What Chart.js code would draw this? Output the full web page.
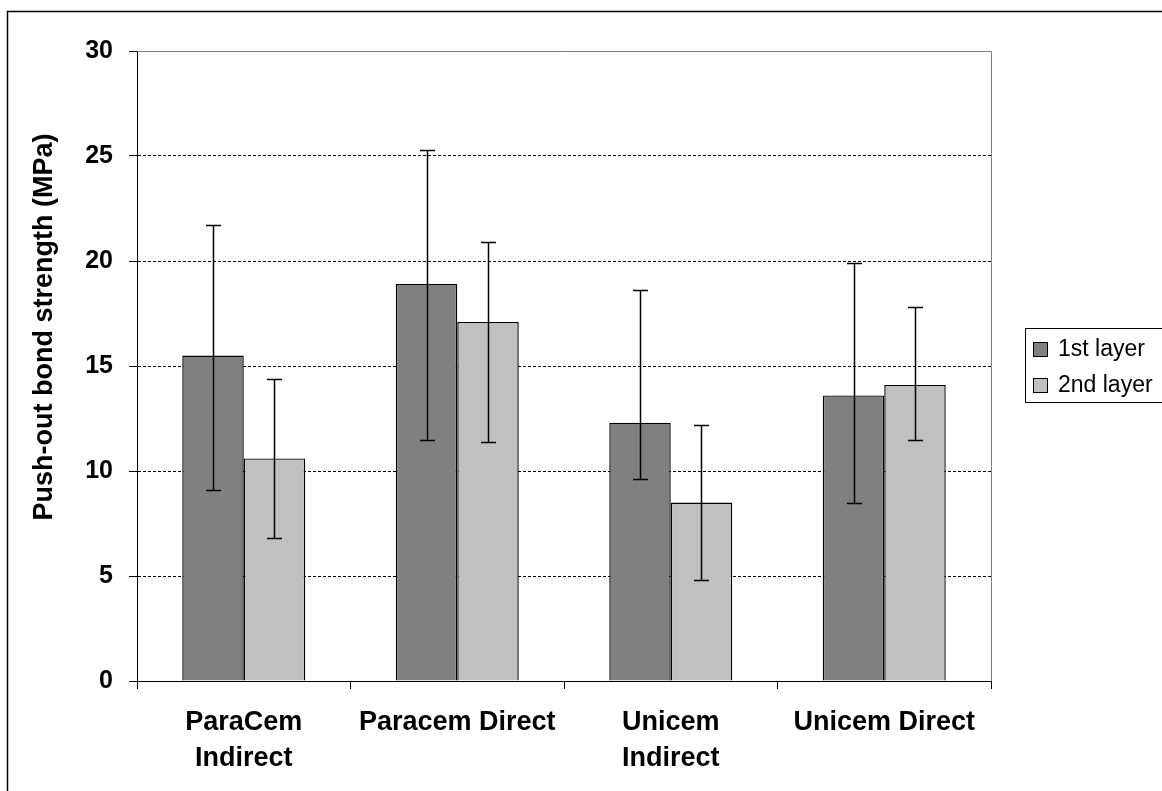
<!DOCTYPE html>
<html>
<head>
<meta charset="utf-8">
<title>Push-out bond strength</title>
<script src="https://cdn.jsdelivr.net/npm/chart.js@4.4.0/dist/chart.umd.min.js"></script>
<style>
  html, body { margin: 0; padding: 0; background: #fff; }
  #wrap { position: relative; width: 1162px; height: 791px; }
</style>
</head>
<body>
<div id="wrap"><canvas id="bondChart"></canvas></div>
<script>
// values
const categories = [["ParaCem", "Indirect"], "Paracem Direct", ["Unicem", "Indirect"], "Unicem Direct"];
const seriesNames = ["1st layer", "2nd layer"];
const firstLayer = [15.5, 18.9, 12.3, 13.6];
const secondLayer = [10.6, 17.1, 8.5, 14.1];
const firstLayerLow = [9.1, 11.5, 9.6, 8.5];
const firstLayerHigh = [21.7, 25.3, 18.6, 19.9];
const secondLayerLow = [6.8, 11.4, 4.8, 11.5];
const secondLayerHigh = [14.4, 20.9, 12.2, 17.8];
const yTicks = [0, 5, 10, 15, 20, 25, 30];
const yTitle = "Push-out bond strength (MPa)";

const FONT = "'Liberation Sans', Arial, sans-serif";

// whisker lines with caps, drawn on top of the bars
const errorBars = {
  id: "errorBars",
  afterDatasetsDraw(chart) {
    const ctx = chart.ctx;
    const y = chart.scales.y;
    ctx.save();
    ctx.strokeStyle = "#000";
    ctx.lineWidth = 1.5;
    chart.data.datasets.forEach((ds, i) => {
      chart.getDatasetMeta(i).data.forEach((bar, j) => {
        const x = Math.round(bar.x) + 0.5;
        const top = Math.round(y.getPixelForValue(ds.errHigh[j])) + 0.5;
        const bot = Math.round(y.getPixelForValue(ds.errLow[j])) + 0.5;
        ctx.beginPath();
        ctx.moveTo(x, top); ctx.lineTo(x, bot);
        ctx.moveTo(x - 7.5, top); ctx.lineTo(x + 7.5, top);
        ctx.moveTo(x - 7.5, bot); ctx.lineTo(x + 7.5, bot);
        ctx.stroke();
      });
    });
    ctx.restore();
  }
};

// outer frame, plot frame, axis title and legend box (Excel look)
const decorations = {
  id: "decorations",
  beforeDraw(chart) {
    const ctx = chart.ctx;
    ctx.save();
    ctx.strokeStyle = "#000";
    ctx.lineWidth = 1.5;
    ctx.strokeRect(7.5, 11.5, chart.width + 20, chart.height + 20);
    ctx.restore();
  },
  beforeDatasetsDraw(chart) {
    const ctx = chart.ctx;
    const a = chart.chartArea;
    ctx.save();
    ctx.strokeStyle = "#808080";
    ctx.lineWidth = 1;
    ctx.beginPath();
    ctx.moveTo(a.left, a.top + 0.5);
    ctx.lineTo(a.right + 0.5, a.top + 0.5);
    ctx.lineTo(a.right + 0.5, a.bottom);
    ctx.stroke();
    ctx.restore();
  },
  afterDraw(chart) {
    const ctx = chart.ctx;
    ctx.save();
    // y axis title
    ctx.translate(45, 327);
    ctx.rotate(-Math.PI / 2);
    ctx.font = "bold 27px " + FONT;
    ctx.fillStyle = "#000";
    ctx.textAlign = "center";
    ctx.textBaseline = "middle";
    ctx.fillText(yTitle, 0, 0);
    ctx.restore();

    // legend
    ctx.save();
    ctx.strokeStyle = "#000";
    ctx.lineWidth = 1;
    ctx.fillStyle = "#fff";
    ctx.fillRect(1025, 328, 160, 74);
    ctx.strokeRect(1025.5, 328.5, 160, 74);
    ctx.font = "23px " + FONT;
    ctx.textBaseline = "middle";
    chart.data.datasets.forEach((ds, i) => {
      const cy = 349 + i * 36;
      ctx.fillStyle = ds.backgroundColor;
      ctx.fillRect(1033, cy - 7, 15, 15);
      ctx.strokeRect(1033.5, cy - 6.5, 14, 14);
      ctx.fillStyle = "#000";
      ctx.fillText(ds.label, 1058, cy + 1);
    });
    ctx.restore();
  }
};

const ctx = document.getElementById("bondChart").getContext("2d");
new Chart(ctx, {
  type: "bar",
  data: {
    labels: categories,
    datasets: [
      {
        label: seriesNames[0],
        data: firstLayer,
        errLow: firstLayerLow,
        errHigh: firstLayerHigh,
        backgroundColor: "#808080",
        borderColor: "#000",
        borderWidth: 1.4
      },
      {
        label: seriesNames[1],
        data: secondLayer,
        errLow: secondLayerLow,
        errHigh: secondLayerHigh,
        backgroundColor: "#c0c0c0",
        borderColor: "#000",
        borderWidth: 1.4
      }
    ]
  },
  options: {
    responsive: true,
    maintainAspectRatio: false,
    animation: false,
    barPercentage: 1,
    categoryPercentage: 0.576,
    layout: { padding: { left: 0, top: 51, right: 171, bottom: 0 } },
    plugins: {
      legend: { display: false },
      tooltip: { enabled: false }
    },
    scales: {
      x: {
        afterFit: s => { s.height = 110; },
        grid: {
          drawOnChartArea: false,
          drawTicks: true,
          tickLength: 8,
          tickColor: "#000",
          tickWidth: 1
        },
        border: { color: "#000", width: 1 },
        ticks: {
          color: "#000",
          padding: 16,
          maxRotation: 0,
          font: { family: FONT, size: 27, weight: "bold", lineHeight: 1.33 }
        }
      },
      y: {
        min: 0,
        max: 30,
        afterFit: s => { s.width = 137; },
        afterBuildTicks: s => { s.ticks = yTicks.map(v => ({ value: v })); },
        grid: {
          color: c => (c.tick && (c.tick.value === 0 || c.tick.value === 30)) ? "rgba(0,0,0,0)" : "#000",
          lineWidth: 1,
          tickLength: 8,
          tickColor: "#000",
          tickBorderDash: []
        },
        border: { color: "#000", width: 1, dash: [3, 2] },
        ticks: {
          color: "#000",
          padding: 16,
          font: { family: FONT, size: 25, weight: "bold" }
        }
      }
    }
  },
  plugins: [errorBars, decorations]
});
</script>
</body>
</html>
